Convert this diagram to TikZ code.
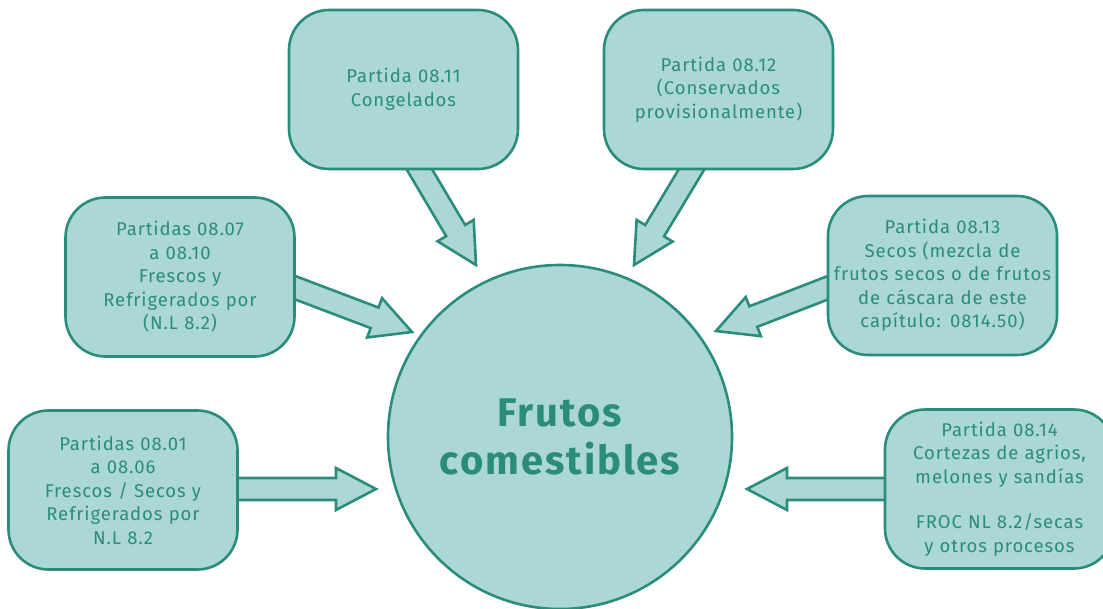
\documentclass[tikz,border=0pt]{standalone}
\usepackage{fontspec}
\setmainfont{Fira Sans}[LetterSpace=5]
\usetikzlibrary{calc}

\definecolor{tealfill}{HTML}{ABD8D5}
\definecolor{tealline}{HTML}{2B8C7B}

\begin{document}
\begin{tikzpicture}[x=1pt,y=-1pt]
        \tikzstyle{box}=[draw=tealline,fill=tealfill,line width=2.6pt,rounded corners=40pt,minimum width=229pt,minimum height=159pt,inner sep=2pt,text width=225pt,align=center,text=tealline,font=\fontsize{18.5}{23.5}\selectfont]
        \tikzstyle{hub}=[draw=tealline,fill=tealfill,line width=2.6pt,circle,minimum size=344pt,align=center,text=tealline,font=\fontsize{40}{48}\selectfont\bfseries]
        \tikzstyle{barrow}=[draw=tealline,fill=tealfill,line width=2.6pt,line join=miter]

        \useasboundingbox (0,0) rectangle (1103,609);

        % start and tip of the block arrows
        \coordinate (sA) at (230,489); \coordinate (tA) at (376,489);
        \coordinate (sB) at (288,285); \coordinate (tB) at (412,332);
        \coordinate (sC) at (415,162); \coordinate (tC) at (476,265);
        \coordinate (sD) at (696,162); \coordinate (tD) at (634,265);
        \coordinate (sE) at (835,285); \coordinate (tE) at (716,331);
        \coordinate (sF) at (892,489); \coordinate (tF) at (747,489);

        \foreach \a in {A,B,C,D,E,F} {
            \coordinate (h\a) at ($(t\a)!40pt!(s\a)$);
            \draw [barrow] ($(s\a)!11pt!90:(t\a)$) -- ($(h\a)!11pt!90:(t\a)$)
                -- ($(h\a)!21pt!90:(t\a)$) -- (t\a) -- ($(h\a)!21pt!-90:(t\a)$)
                -- ($(h\a)!11pt!-90:(t\a)$) -- ($(s\a)!11pt!-90:(t\a)$) -- cycle;
        };

        \node [box] (p01) at (123,490) {Partidas 08.01\\a 08.06\\Frescos / Secos y\\Refrigerados por\\N.L 8.2};
        \node [box] (p07) at (180,277) {Partidas 08.07\\a 08.10\\Frescos y\\Refrigerados por\\(N.L 8.2)};
        \node [box] (p11) at (403.5,89.5) {Partida 08.11\\Congelados};
        \node [box] (p12) at (718.5,89.5) {Partida 08.12\\(Conservados\\provisionalmente)};
        \node [box] (p13) at (942.5,275.5) {Partida 08.13\\Secos (mezcla de\\frutos secos o de frutos\\de cáscara de este\\capítulo: 0814.50)};
        \node [box] (p14) at (999.5,489) {Partida 08.14\\Cortezas de agrios,\\melones y sandías\\[22pt]FROC NL 8.2/secas\\y otros procesos};

        \node [hub] (fruit) at (560,437) {Frutos\\comestibles};
\end{tikzpicture}
\end{document}
